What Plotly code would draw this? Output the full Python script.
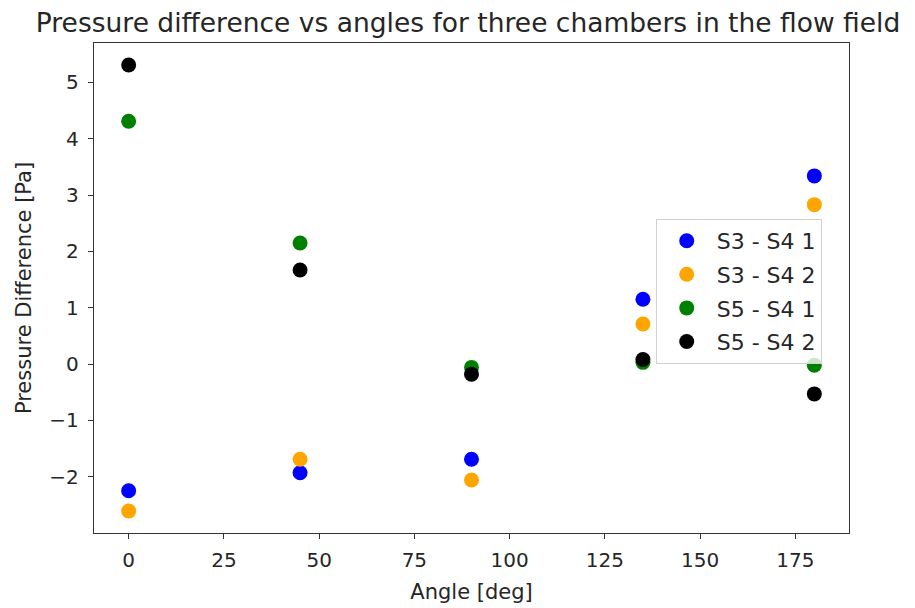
import plotly.graph_objects as go

angles = [0, 45, 90, 135, 180]
s3_s4_1 = [-2.25, -1.93, -1.69, 1.15, 3.34]
s3_s4_2 = [-2.61, -1.69, -2.06, 0.71, 2.83]
s5_s4_1 = [4.31, 2.15, -0.06, 0.03, -0.02]
s5_s4_2 = [5.31, 1.67, -0.18, 0.08, -0.53]

series = [
    ("S3 - S4 1", s3_s4_1, "blue"),
    ("S3 - S4 2", s3_s4_2, "orange"),
    ("S5 - S4 1", s5_s4_1, "green"),
    ("S5 - S4 2", s5_s4_2, "black"),
]

x_ticks = [0, 25, 50, 75, 100, 125, 150, 175]
y_ticks = [-2, -1, 0, 1, 2, 3, 4, 5]

fig = go.Figure()
for i, (name, vals, col) in enumerate(series):
    fig.add_trace(go.Scatter(x=angles, y=vals, mode="markers", name=name,
                             legendgroup=f"g{i}",
                             marker=dict(color=col, size=15, line=dict(width=0))))

font = "DejaVu Sans"
txt = "#262626"
axis_common = dict(showline=True, linecolor="#333", linewidth=1.3, mirror=True,
                   ticks="outside", ticklen=5, tickcolor="#333", showgrid=False,
                   zeroline=False, automargin=False,
                   tickfont=dict(family=font, size=20, color=txt))

W, H = 907, 600  # page body has an 8px margin; keep the figure inside the window
fig.update_layout(
    width=W, height=H,
    paper_bgcolor="white", plot_bgcolor="white",
    margin=dict(l=86, r=66, t=35, b=75),
    title=dict(text="Pressure difference vs angles for three chambers in the flow field",
               x=460 / W, xanchor="center", y=1 - 15 / H, yanchor="middle",
               font=dict(family=font, size=26.5, color=txt)),
    xaxis=dict(range=[-9.1, 189.1], tickvals=x_ticks, ticklabelstandoff=4,
               title=dict(text="Angle [deg]", font=dict(family=font, size=21, color=txt), standoff=13),
               **axis_common),
    yaxis=dict(range=[-3.0, 5.7], tickvals=y_ticks, ticklabelstandoff=5,
               title=dict(text="Pressure Difference [Pa]", font=dict(family=font, size=21, color=txt), standoff=12),
               **axis_common),
    legend=dict(x=0.744, y=0.641, xanchor="left", yanchor="top",
                bordercolor="#d0d0d0", borderwidth=1, bgcolor="rgba(255,255,255,0.8)",
                tracegroupgap=2, itemwidth=50,
                font=dict(family=font, size=22, color=txt)),
    showlegend=True,
)

fig.write_html("out.html")
